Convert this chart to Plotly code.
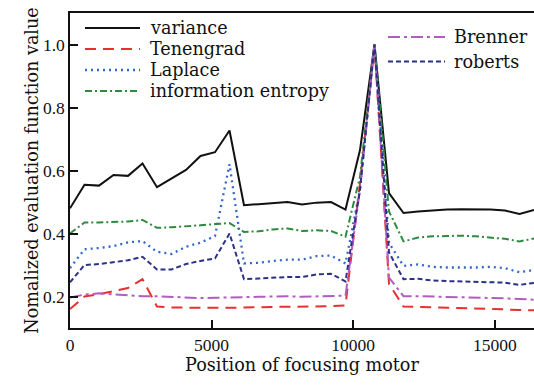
import plotly.graph_objects as go

step = 512
positions = [k * step for k in range(33)]

variance = [0.480, 0.555, 0.552, 0.586, 0.583, 0.622, 0.547, 0.575, 0.602, 0.646,
            0.658, 0.727, 0.490, 0.493, 0.496, 0.500, 0.492, 0.498, 0.500, 0.476,
            0.665, 1.000, 0.528, 0.465, 0.470, 0.474, 0.476, 0.477, 0.477, 0.476,
            0.473, 0.462, 0.475]
tenengrad = [0.160, 0.200, 0.207, 0.218, 0.227, 0.255, 0.168, 0.165, 0.164, 0.164,
             0.164, 0.164, 0.164, 0.166, 0.167, 0.167, 0.167, 0.168, 0.169, 0.172,
             0.560, 1.000, 0.240, 0.168, 0.167, 0.166, 0.165, 0.164, 0.163, 0.161,
             0.159, 0.157, 0.156]
laplace = [0.290, 0.350, 0.354, 0.360, 0.372, 0.376, 0.342, 0.335, 0.358, 0.371,
           0.392, 0.620, 0.305, 0.307, 0.313, 0.317, 0.317, 0.328, 0.330, 0.305,
           0.540, 1.000, 0.370, 0.297, 0.302, 0.294, 0.292, 0.291, 0.292, 0.294,
           0.290, 0.277, 0.284]
entropy = [0.400, 0.435, 0.435, 0.437, 0.438, 0.443, 0.418, 0.420, 0.422, 0.426,
           0.430, 0.433, 0.405, 0.407, 0.413, 0.416, 0.408, 0.410, 0.408, 0.390,
           0.580, 1.000, 0.470, 0.375, 0.387, 0.391, 0.392, 0.393, 0.391, 0.388,
           0.383, 0.375, 0.384]
brenner = [0.197, 0.206, 0.210, 0.207, 0.203, 0.201, 0.201, 0.199, 0.197, 0.195,
           0.196, 0.198, 0.198, 0.199, 0.200, 0.201, 0.199, 0.201, 0.201, 0.203,
           0.540, 1.000, 0.260, 0.201, 0.201, 0.200, 0.199, 0.199, 0.197, 0.196,
           0.194, 0.192, 0.190]
roberts = [0.245, 0.300, 0.303, 0.310, 0.315, 0.326, 0.286, 0.286, 0.303, 0.313,
           0.321, 0.400, 0.255, 0.257, 0.260, 0.262, 0.262, 0.270, 0.272, 0.248,
           0.540, 1.000, 0.340, 0.255, 0.256, 0.251, 0.249, 0.248, 0.248, 0.247,
           0.244, 0.237, 0.243]

x_ticks = [0, 5000, 10000, 15000]
y_ticks = [0.2, 0.4, 0.6, 0.8, 1.0]

TEXT_FONT = "DejaVu Serif"
NUM_FONT = "Liberation Serif"
INK = "#111111"

# (name, values, colour, dash, width, legend column, legend row)
series = [
    ("variance", variance, "#111111", "solid", 2.0, 0, 0),
    ("Tenengrad", tenengrad, "#e8302e", "11px,7px", 2.0, 0, 1),
    ("Laplace", laplace, "#3366cc", "2px,4px", 2.3, 0, 2),
    ("information entropy", entropy, "#2e8b3e", "7px,3px,2px,3px", 2.0, 0, 3),
    ("Brenner", brenner, "#b25cc2", "12px,4px,3px,4px", 2.0, 1, 0),
    ("roberts", roberts, "#2c3186", "5px,3px", 2.0, 1, 1),
]

# plot area in pixels
L, R, T, B = 70, 534, 13, 328
W, H = 534, 385


def px_x(p):
    return (p - L) / (R - L)


def px_y(p):
    return (B - p) / (B - T)


# legend layout (pixels)
legend_cols = [
    dict(line0=85, line1=140, text=148, rows=[28, 49, 70, 91]),
    dict(line0=388, line1=445, text=452, rows=[37, 61.5]),
]

fig = go.Figure()
shapes, annotations = [], []
for name, vals, color, dash, lw, col, row in series:
    fig.add_trace(go.Scatter(
        x=positions, y=vals, name=name, mode="lines",
        line=dict(color=color, width=lw, dash=dash),
        showlegend=False,
    ))
    c = legend_cols[col]
    yy = px_y(c["rows"][row])
    shapes.append(dict(type="line", xref="paper", yref="paper",
                       x0=px_x(c["line0"]), x1=px_x(c["line1"]), y0=yy, y1=yy,
                       line=dict(color=color, width=lw, dash=dash)))
    annotations.append(dict(text=name, xref="paper", yref="paper",
                            x=px_x(c["text"]), y=yy, xanchor="left", yanchor="middle",
                            showarrow=False, font=dict(family=TEXT_FONT, size=17.6, color=INK)))

fig.update_layout(
    width=W, height=H,
    margin=dict(l=L, r=W - R, t=T, b=H - B, autoexpand=False),
    paper_bgcolor="white", plot_bgcolor="white",
    font=dict(family=TEXT_FONT, size=17.6, color=INK),
    showlegend=False,
    shapes=shapes,
    annotations=annotations,
)
fig.update_xaxes(
    range=[0, 16384], tickvals=x_ticks, ticktext=[str(v) for v in x_ticks],
    ticks="inside", ticklen=8, tickwidth=1.5, tickcolor=INK,
    showline=True, linecolor=INK, linewidth=1.5, mirror=True,
    showgrid=False, zeroline=False, automargin=False,
    tickfont=dict(family=NUM_FONT, size=17.5, color=INK),
    title=dict(text="Position of focusing motor",
               font=dict(family=TEXT_FONT, size=17.6, color=INK), standoff=4),
)
fig.update_yaxes(
    range=[0.1, 1.1], tickvals=y_ticks, ticktext=[f"{v:.1f}" for v in y_ticks],
    ticks="inside", ticklen=8, tickwidth=1.5, tickcolor=INK,
    showline=True, linecolor=INK, linewidth=1.5, mirror=True,
    showgrid=False, zeroline=False, automargin=False,
    tickfont=dict(family=NUM_FONT, size=17.5, color=INK),
    title=dict(text="Nomalized evaluation function value",
               font=dict(family=TEXT_FONT, size=17.6, color=INK), standoff=0),
)

fig.write_html(
    "out.html",
    config={"displayModeBar": False},
    post_script="document.body.style.margin='0';document.body.style.overflow='hidden';",
)
